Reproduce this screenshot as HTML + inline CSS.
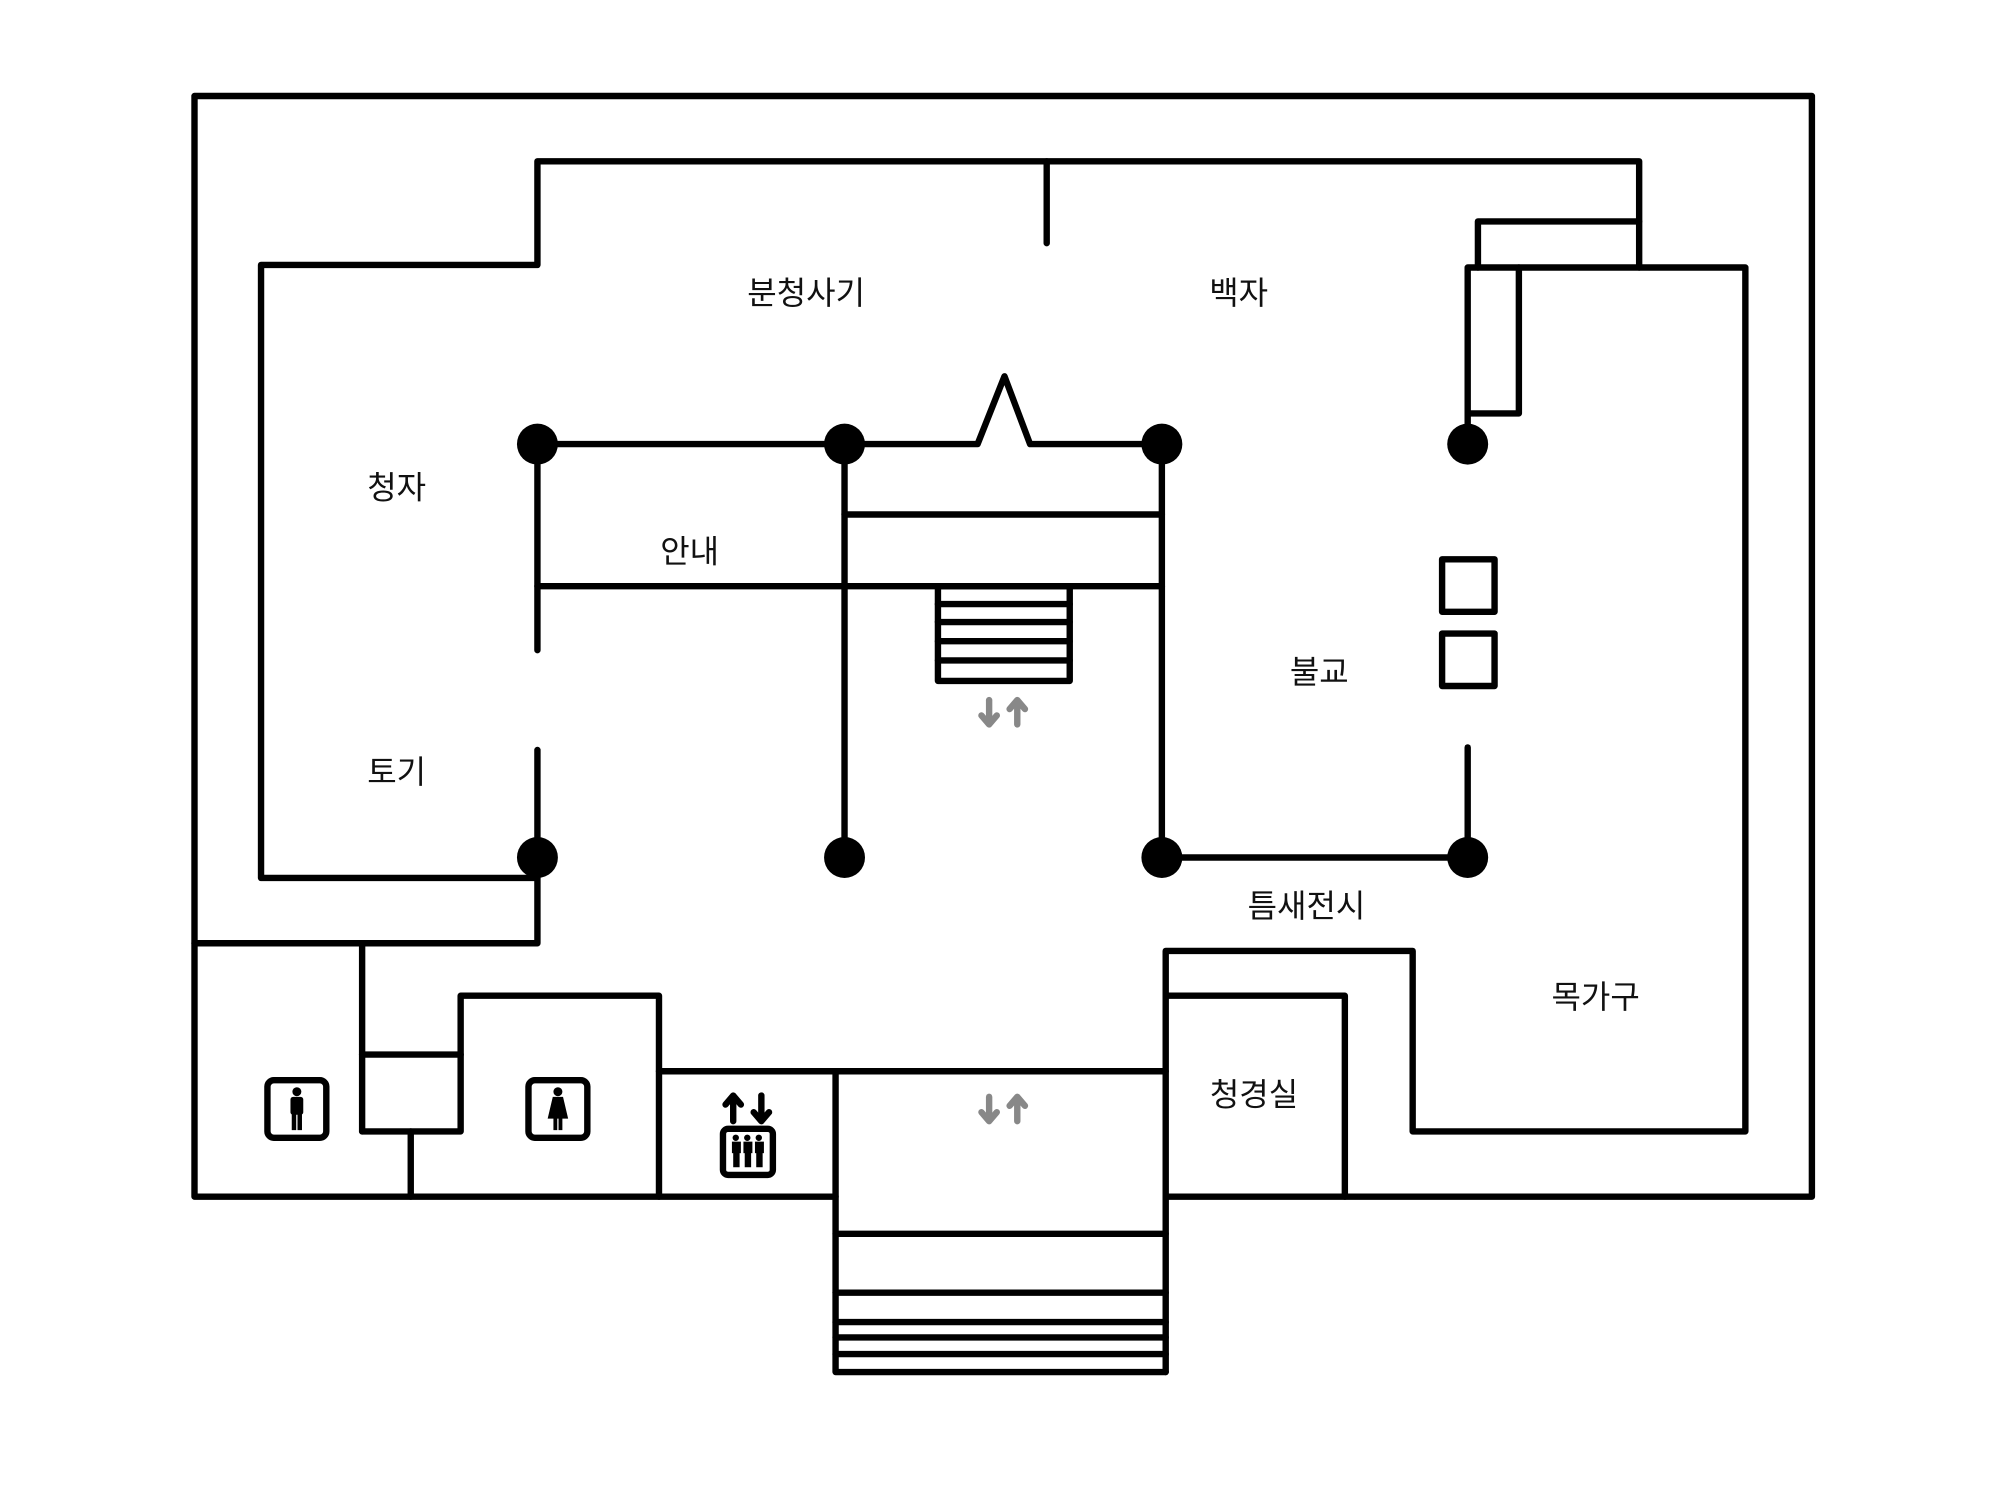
<!DOCTYPE html>
<html><head><meta charset="utf-8"><style>
html,body{margin:0;padding:0;background:#fff;width:2000px;height:1500px;overflow:hidden}
svg{display:block}
text{font-family:"Liberation Sans","Noto Sans CJK KR","NanumGothic",sans-serif;font-size:25px;fill:#111;text-anchor:middle;dominant-baseline:central}
</style></head><body>
<svg width="2000" height="1500" viewBox="0 0 1563 1172" preserveAspectRatio="none" xmlns="http://www.w3.org/2000/svg">
<g fill="none" stroke="#000" stroke-width="5" stroke-linecap="round" stroke-linejoin="round">
<polyline points="653,935 152,935 152,75 1416,75 1416,935 911,935"/>
<polyline points="420,686 204,686 204,207 420,207 420,126 1281,126 1281,209"/>
<line x1="818" y1="126" x2="818" y2="190"/>
<polyline points="1155,209 1155,173 1281,173"/>
<polyline points="1147,347 1147,209 1364,209 1364,884 1104,884 1104,743 911,743 911,1072"/>
<polyline points="1147,323 1187,323 1187,209"/>
<polyline points="420,670 420,737 152,737"/>
<line x1="283" y1="737" x2="283" y2="884"/>
<polyline points="283,824 360,824"/>
<polyline points="283,884 360,884 360,778 515,778 515,935"/>
<line x1="321" y1="884" x2="321" y2="935"/>
<line x1="515" y1="837" x2="911" y2="837"/>
<polyline points="653,837 653,1072 911,1072"/>
<line x1="653" y1="964" x2="911" y2="964"/>
<line x1="653" y1="1010" x2="911" y2="1010"/>
<line x1="653" y1="1033" x2="911" y2="1033"/>
<line x1="653" y1="1045" x2="911" y2="1045"/>
<line x1="653" y1="1058" x2="911" y2="1058"/>
<polyline points="911,778 1051,778 1051,935"/>
<polyline points="420,347 764,347 785,294 805,347 908,347"/>
<line x1="660" y1="347" x2="660" y2="670"/>
<line x1="908" y1="347" x2="908" y2="670"/>
<line x1="660" y1="402" x2="908" y2="402"/>
<line x1="420" y1="458" x2="908" y2="458"/>
<line x1="420" y1="347" x2="420" y2="508"/>
<line x1="420" y1="586" x2="420" y2="670"/>
<line x1="908" y1="670" x2="1147" y2="670"/>
<line x1="1147" y1="584" x2="1147" y2="670"/>
<rect x="733" y="458" width="103" height="74"/>
<line x1="733" y1="472" x2="836" y2="472"/>
<line x1="733" y1="486" x2="836" y2="486"/>
<line x1="733" y1="501" x2="836" y2="501"/>
<line x1="733" y1="516" x2="836" y2="516"/>
<rect x="1127" y="437" width="41" height="41"/>
<rect x="1127" y="495" width="41" height="41"/>
<rect x="209" y="844" width="46" height="45" rx="5"/>
<rect x="413" y="844" width="46" height="45" rx="5"/>
<rect x="565" y="882" width="39" height="36" rx="4"/>
</g>
<g fill="#000">
<circle cx="420" cy="347" r="16"/><circle cx="660" cy="347" r="16"/><circle cx="908" cy="347" r="16"/><circle cx="1147" cy="347" r="16"/>
<circle cx="420" cy="670" r="16"/><circle cx="660" cy="670" r="16"/><circle cx="908" cy="670" r="16"/><circle cx="1147" cy="670" r="16"/>
<circle cx="232" cy="853" r="3.5"/><rect x="227" y="857" width="10" height="14" rx="2"/><rect x="228" y="868" width="3.5" height="15"/><rect x="232.5" y="868" width="3.5" height="15"/>
<circle cx="436" cy="853" r="3.5"/><polygon points="432,857 440,857 444,874 428,874"/><rect x="432.5" y="873" width="3" height="10"/><rect x="436.5" y="873" width="3" height="10"/>
<g transform="translate(572,886)"><circle cx="3" cy="3" r="2.5"/><rect x="0" y="6" width="7" height="9"/><rect x="1" y="14" width="5" height="12"/></g>
<g transform="translate(581,886)"><circle cx="3" cy="3" r="2.5"/><rect x="0" y="6" width="7" height="9"/><rect x="1" y="14" width="5" height="12"/></g>
<g transform="translate(590,886)"><circle cx="3" cy="3" r="2.5"/><rect x="0" y="6" width="7" height="9"/><rect x="1" y="14" width="5" height="12"/></g>
</g>
<g fill="none" stroke="#000" stroke-width="5" stroke-linecap="round" stroke-linejoin="round">
<line x1="573" y1="876" x2="573" y2="857"/><polyline points="567,863 573,856 579,863"/>
<line x1="595" y1="856" x2="595" y2="875"/><polyline points="589,869 595,876 601,869"/>
</g>
<g fill="none" stroke="#888" stroke-width="5" stroke-linecap="round" stroke-linejoin="round">
<line x1="773" y1="547" x2="773" y2="565"/><polyline points="767,559 773,566 779,559"/>
<line x1="795" y1="566" x2="795" y2="548"/><polyline points="789,554 795,547 801,554"/>
<line x1="773" y1="857" x2="773" y2="875"/><polyline points="767,869 773,876 779,869"/>
<line x1="795" y1="876" x2="795" y2="858"/><polyline points="789,864 795,857 801,864"/>
</g>
<text x="630" y="229">분청사기</text>
<text x="968" y="229">백자</text>
<text x="310" y="381">청자</text>
<text x="539" y="431">안내</text>
<text x="310" y="603">토기</text>
<text x="1031" y="525">불교</text>
<text x="1021" y="708">틈새전시</text>
<text x="1247" y="779">목가구</text>
<text x="980" y="855">청경실</text>
</svg>
</body></html>
